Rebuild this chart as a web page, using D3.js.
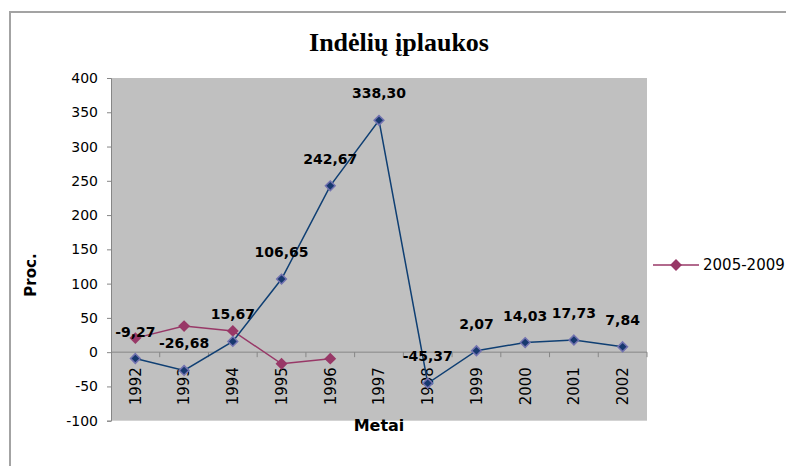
<!DOCTYPE html>
<html>
<head>
<meta charset="utf-8">
<script src="https://cdn.jsdelivr.net/npm/d3@7"></script>
<style>
  html, body { margin: 0; padding: 0; background: #fff; }
  svg { display: block; }
</style>
</head>
<body>
<svg id="chart" width="786" height="466"></svg>
<script>
// Deposit inflow, percent change by year
const years = ["1992","1993","1994","1995","1996","1997","1998","1999","2000","2001","2002"];
const inflow9202 = [-9.27, -26.68, 15.67, 106.65, 242.67, 338.30, -45.37, 2.07, 14.03, 17.73, 7.84];
const inflow0509 = [20.5, 38, 31, -17, -9.5];
const yTicks = [-100, -50, 0, 50, 100, 150, 200, 250, 300, 350, 400];
const seriesName0509 = "2005-2009";

const svg = d3.select("#chart");
const plot = { left: 111, right: 647, top: 78, bottom: 420.7 };

// outer chart border
svg.append("rect")
  .attr("x", 10).attr("y", 12).attr("width", 820).attr("height", 500)
  .attr("fill", "#fff").attr("stroke", "#a3a3a3").attr("stroke-width", 2);

const x = d3.scaleBand().domain(years).range([plot.left, plot.right]).padding(0);
const y = d3.scaleLinear().domain([-100, 400]).range([plot.bottom, plot.top]);

// plot background
svg.append("rect")
  .attr("x", plot.left).attr("y", plot.top)
  .attr("width", plot.right - plot.left).attr("height", plot.bottom - plot.top)
  .attr("fill", "#c0c0c0");

// title
svg.append("text")
  .attr("x", 399).attr("y", 51)
  .attr("text-anchor", "middle")
  .attr("font-family", "Liberation Serif, Times New Roman, serif")
  .attr("font-weight", "bold").attr("font-size", 26)
  .text("Indėlių įplaukos");

// value axis (plain hyphen for negatives)
const yAxis = d3.axisLeft(y).tickValues(yTicks).tickSize(4).tickPadding(9)
  .tickFormat(d => String(d));
const gy = svg.append("g").attr("transform", `translate(${plot.left},0)`).call(yAxis);
gy.select(".domain").attr("stroke", "#868686").attr("stroke-width", 1);
gy.selectAll(".tick line").attr("stroke", "#868686");
gy.selectAll(".tick text")
  .attr("font-family", "DejaVu Sans, sans-serif").attr("font-size", 14).attr("fill", "#000");

// category axis along the zero line, ticks at category boundaries
const y0 = y(0);
svg.append("line")
  .attr("x1", plot.left).attr("x2", plot.right).attr("y1", y0).attr("y2", y0)
  .attr("stroke", "#868686");
const bounds = years.map(d => x(d)).concat([plot.right]);
svg.append("g").selectAll("line").data(bounds.slice(1)).join("line")
  .attr("x1", d => d).attr("x2", d => d)
  .attr("y1", y0).attr("y2", y0 + 5)
  .attr("stroke", "#868686");
svg.append("g").selectAll("text").data(years).join("text")
  .attr("transform", d => `translate(${x(d) + x.bandwidth() / 2},${y0 + 15}) rotate(-90)`)
  .attr("text-anchor", "end").attr("dy", "0.36em")
  .attr("font-family", "DejaVu Sans, sans-serif").attr("font-size", 15)
  .text(d => d);

// axis titles
svg.append("text")
  .attr("transform", `translate(36,275) rotate(-90)`)
  .attr("text-anchor", "middle")
  .attr("font-family", "DejaVu Sans, sans-serif").attr("font-weight", "bold").attr("font-size", 15)
  .text("Proc.");
svg.append("text")
  .attr("x", 379).attr("y", 431)
  .attr("text-anchor", "middle")
  .attr("font-family", "DejaVu Sans, sans-serif").attr("font-weight", "bold").attr("font-size", 16)
  .text("Metai");

const cx = (d, i) => x(years[i]) + x.bandwidth() / 2;
const line = d3.line().x((d, i) => cx(d, i)).y(d => y(d));
const diamond = d3.symbol().type(d3.symbolDiamond2);

// 2005-2009 series
const magenta = "#983867";
svg.append("path").datum(inflow0509)
  .attr("d", line).attr("fill", "none").attr("stroke", magenta).attr("stroke-width", 1.5);
svg.append("g").selectAll("path").data(inflow0509).join("path")
  .attr("transform", (d, i) => `translate(${cx(d, i)},${y(d)})`)
  .attr("d", diamond.size(90)())
  .attr("fill", magenta);

// 1992-2002 series
const navy = "#0f3f73";
svg.append("path").datum(inflow9202)
  .attr("d", line).attr("fill", "none").attr("stroke", navy).attr("stroke-width", 1.5);
svg.append("g").selectAll("path").data(inflow9202).join("path")
  .attr("transform", (d, i) => `translate(${cx(d, i)},${y(d)})`)
  .attr("d", diamond.size(60)())
  .attr("fill", "#17386e").attr("stroke", "#7272b0").attr("stroke-width", 1.5);

// value labels
const fmt = v => v.toFixed(2).replace(".", ",");
svg.append("g").selectAll("text").data(inflow9202).join("text")
  .attr("x", (d, i) => cx(d, i)).attr("y", d => y(d) - 22)
  .attr("text-anchor", "middle")
  .attr("font-family", "DejaVu Sans, sans-serif").attr("font-weight", "bold").attr("font-size", 14)
  .text(fmt);

// legend
const lg = svg.append("g").attr("transform", "translate(653,265)");
lg.append("line").attr("x1", 0).attr("x2", 46).attr("y1", 0).attr("y2", 0)
  .attr("stroke", magenta).attr("stroke-width", 1.5);
lg.append("path").attr("transform", "translate(23,0)").attr("d", diamond.size(90)()).attr("fill", magenta);
lg.append("text").attr("x", 50).attr("y", 0).attr("dy", "0.36em")
  .attr("font-family", "DejaVu Sans, sans-serif").attr("font-size", 15)
  .text(seriesName0509);
</script>
</body>
</html>
